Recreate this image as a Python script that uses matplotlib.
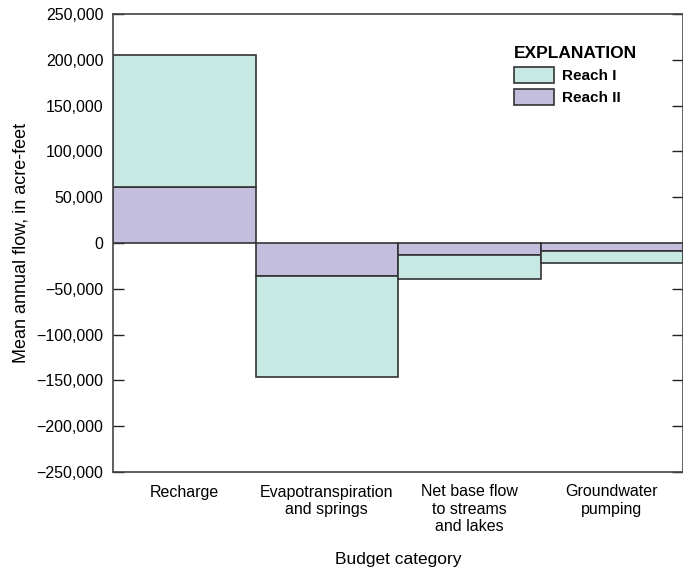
import matplotlib
matplotlib.use("Agg")
import matplotlib.pyplot as plt
from matplotlib.patches import Patch
from matplotlib.ticker import FuncFormatter
from matplotlib import font_manager

names = {f.name for f in font_manager.fontManager.ttflist}
fam = ['Liberation Sans Narrow', 'DejaVu Sans'] if 'Liberation Sans Narrow' in names else ['Liberation Sans', 'DejaVu Sans']
plt.rcParams['font.family'] = fam

categories = ["Recharge", "Evapotranspiration\nand springs", "Net base flow\nto streams\nand lakes", "Groundwater\npumping"]
reach2 = [61000, -36500, -13500, -8200]
reach1 = [144000, -110000, -25500, -13300]
yticks = [250000, 200000, 150000, 100000, 50000, 0, -50000, -100000, -150000, -200000, -250000]

teal = '#c8e8e4'
purple = '#c3bedd'
edge = '#333333'

fig = plt.figure(figsize=(6.83, 5.75), dpi=100)
ax = fig.add_axes([113/683, 1 - 472/575, 570/683, (472-14)/575])

x = list(range(len(categories)))
ax.bar(x, reach2, width=1.0, color=purple, edgecolor=edge, linewidth=1.2, zorder=2)
ax.bar(x, reach1, bottom=reach2, width=1.0, color=teal, edgecolor=edge, linewidth=1.2, zorder=2)

ax.set_xlim(-0.5, 3.5)
ax.set_ylim(-250000, 250000)
ax.set_yticks(yticks)
ax.yaxis.set_major_formatter(FuncFormatter(lambda v, p: f"{int(v):,}".replace('-', '\u2212')))
ax.set_xticks(x)
ax.set_xticklabels(categories, fontsize=11.5, linespacing=1.2, va='top')
ax.tick_params(axis='x', length=0, pad=9)
ax.tick_params(axis='y', direction='in', length=8, width=1, labelsize=11.5, right=True, pad=7,
               colors='#222222', labelcolor='black')
for s in ax.spines.values():
    s.set_color('#444444')
    s.set_linewidth(1.2)

ax.set_ylabel("Mean annual flow, in acre-feet", fontsize=13, labelpad=5)
ax.set_xlabel("Budget category", fontsize=12.5, labelpad=13)

handles = [Patch(facecolor=teal, edgecolor=edge, linewidth=1.2, label='Reach I'),
           Patch(facecolor=purple, edgecolor=edge, linewidth=1.2, label='Reach II')]
leg = ax.legend(handles=handles, title='EXPLANATION', loc='upper left', bbox_to_anchor=(0.68, 0.96),
                frameon=False, prop={'weight': 'bold', 'size': 11}, handlelength=2.6, handleheight=1.2,
                handletextpad=0.5, labelspacing=0.4, alignment='left')
leg.get_title().set_fontweight('bold')
leg.get_title().set_fontsize(12.5)

fig.savefig("out.png", dpi=100)
